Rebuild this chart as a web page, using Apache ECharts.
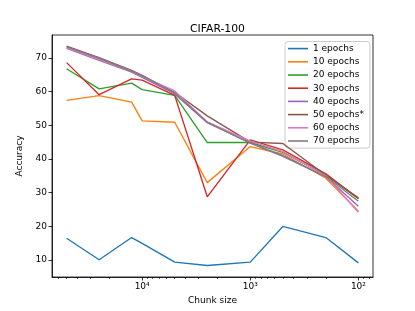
<!DOCTYPE html>
<html>
<head>
<meta charset="utf-8">
<script src="https://cdn.jsdelivr.net/npm/echarts@6/dist/echarts.min.js"></script>
<style>html,body{margin:0;padding:0;background:#fff}#c{width:415px;height:311px}</style>
</head>
<body>
<div id="c"></div>
<script>
const chunkSizes = [50000, 25000, 12500, 10000, 5000, 2500, 1000, 500, 200, 100];
const seriesNames = ['1 epochs','10 epochs','20 epochs','30 epochs','40 epochs','50 epochs*','60 epochs','70 epochs'];
const ep1  = [16.5, 10.1, 16.7, 15.0, 9.4, 8.4, 9.4, 20.0, 16.7, 9.2];
const ep10 = [57.4, 58.8, 56.9, 51.3, 50.9, 33.0, 43.7, 41.5, 34.3, 24.5];
const ep20 = [66.8, 60.8, 62.5, 60.6, 58.9, 44.9, 44.9, 42.0, 35.2, 28.2];
const ep30 = [68.6, 59.1, 63.8, 63.4, 58.9, 28.8, 45.7, 42.7, 35.6, 28.3];
const ep40 = [72.8, 69.3, 65.8, 64.2, 59.3, 50.8, 44.8, 41.0, 34.7, 26.0];
const ep50 = [73.5, 70.1, 66.3, 64.8, 59.8, 52.8, 45.0, 44.6, 35.2, 28.5];
const ep60 = [73.0, 69.6, 66.0, 64.5, 60.2, 51.0, 45.3, 42.2, 35.0, 24.2];
const ep70 = [73.3, 69.9, 66.1, 64.7, 59.6, 50.9, 44.7, 40.8, 34.8, 27.5];
const yTicks = [10, 20, 30, 40, 50, 60, 70];
const xMajor = [100, 1000, 10000];
const xMinor = [80, 90, 200, 300, 400, 500, 600, 700, 800, 900,
                2000, 3000, 4000, 5000, 6000, 7000, 8000, 9000,
                20000, 30000, 40000, 50000, 60000];
const colors = ['#1f77b4','#ff7f0e','#2ca02c','#d62728','#9467bd','#8c564b','#e377c2','#7f7f7f'];
const allData = [ep1, ep10, ep20, ep30, ep40, ep50, ep60, ep70];

const sup = {2:'\u00b2',3:'\u00b3',4:'\u2074'};
const FONT = 'DejaVu Sans';
const chart = echarts.init(document.getElementById('c'), null, {renderer:'canvas'});
const xBase = {
  type: 'log', logBase: 10, inverse: true, min: 73.3, max: 68200,
  gridIndex: 0, position: 'bottom', splitLine: {show:false}
};
chart.setOption({
  animation: false,
  backgroundColor: '#fff',
  title: {
    text: 'CIFAR-100', left: 212.5, textAlign: 'center', top: 19,
    textStyle: {fontFamily: FONT, fontSize: 10.8, fontWeight: 'normal', color: '#000'}
  },
  grid: {left: 52, right: 42, top: 35, bottom: 34, show: true, borderColor: '#000', borderWidth: 0.8, containLabel: false},
  legend: {
    orient: 'vertical', left: 285, top: 41.5, itemGap: 0, itemWidth: 20, itemHeight: 1.6,
    icon: 'rect', itemTextGap: 7,
    padding: [0.5, 6, 0.5, 3],
    backgroundColor: 'rgba(255,255,255,0.8)', borderColor: '#cccccc', borderWidth: 1, borderRadius: 3,
    textStyle: {fontFamily: FONT, fontSize: 9, color: '#000', lineHeight: 13.2},
    data: seriesNames
  },
  xAxis: [
    Object.assign({}, xBase, {
      name: 'Chunk size', nameLocation: 'middle', nameGap: 19,
      nameTextStyle: {fontFamily: FONT, fontSize: 9, color: '#000'},
      axisLine: {show: true, lineStyle: {color: '#000', width: 0.8}},
      axisTick: {show: true, customValues: xMajor, length: 3.5, lineStyle: {color: '#000', width: 0.8}},
      axisLabel: {show: true, customValues: xMajor, margin: 5, fontFamily: FONT, fontSize: 9, color: '#000',
        formatter: v => '10' + sup[Math.round(Math.log10(v))]}
    }),
    Object.assign({}, xBase, {
      axisLine: {show: false},
      axisTick: {show: true, customValues: xMinor, length: 2, lineStyle: {color: '#000', width: 0.6}},
      axisLabel: {show: false}
    })
  ],
  yAxis: {
    type: 'value', min: 5.0, max: 76.8, splitLine: {show: false},
    name: 'Accuracy', nameLocation: 'middle', nameGap: 22, nameRotate: 90,
    nameTextStyle: {fontFamily: FONT, fontSize: 9, color: '#000'},
    axisLine: {show: true, lineStyle: {color: '#000', width: 0.8}},
    axisTick: {show: true, customValues: yTicks, length: 3.5, lineStyle: {color: '#000', width: 0.8}},
    axisLabel: {show: true, customValues: yTicks, margin: 5, fontFamily: FONT, fontSize: 9, color: '#000'}
  },
  series: seriesNames.map((n, i) => ({
    name: n, type: 'line', xAxisIndex: 0, yAxisIndex: 0,
    data: chunkSizes.map((c, j) => [c, allData[i][j]]),
    symbol: 'none', showSymbol: false,
    lineStyle: {color: colors[i], width: 1.35},
    itemStyle: {color: colors[i]},
    z: 2 + i
  }))
});
</script>
</body>
</html>
